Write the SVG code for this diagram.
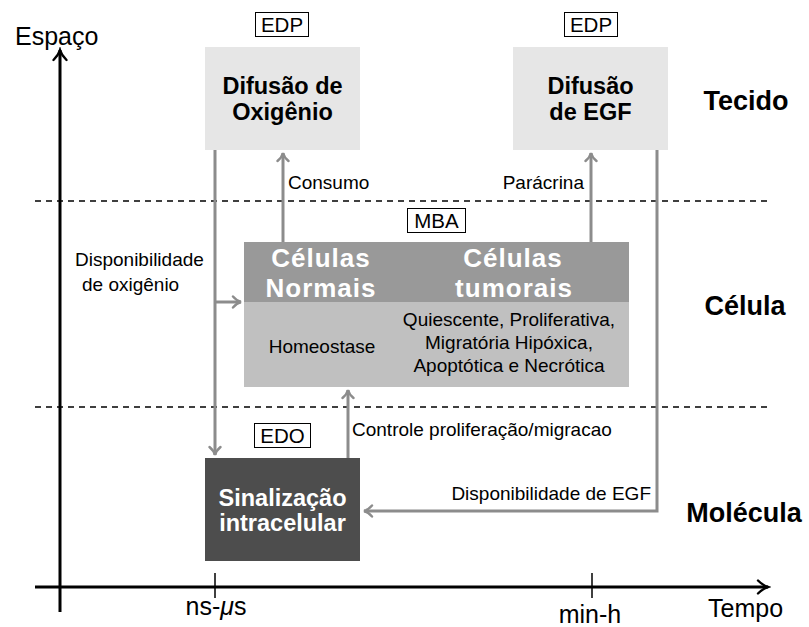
<svg xmlns="http://www.w3.org/2000/svg" width="809" height="627" viewBox="0 0 809 627">
<style>
text{font-family:"Liberation Sans",Arial,sans-serif;fill:#000}
.t{font-size:19px}
.tg{font-size:20.5px}
.b{font-weight:bold;font-size:23.5px}
.h{font-weight:bold;font-size:26px;letter-spacing:1px;fill:#fff}
.w{fill:#fff}
.lvl{font-weight:bold;font-size:27px}
.ax{font-size:25px}
.tag{fill:#fff;stroke:#000;stroke-width:1}
.con{stroke:#8c8c8c;stroke-width:3;fill:none}
.dash{stroke:#000;stroke-width:1.6;stroke-dasharray:6,5;fill:none}
.axis{stroke:#000;stroke-width:3;fill:none}
.tick{stroke:#000;stroke-width:1.5}
</style>
<defs>
<marker id="ag" markerUnits="userSpaceOnUse" markerWidth="14" markerHeight="14" viewBox="-10 -7 12 14" refX="0" refY="0" orient="auto">
<path d="M-8,-5.5 C-5,-2 -2,-0.5 0,0 C-2,0.5 -5,2 -8,5.5" stroke="#8c8c8c" stroke-width="2.4" fill="none" stroke-linecap="round"/>
</marker>
<marker id="ak" markerUnits="userSpaceOnUse" markerWidth="16" markerHeight="16" viewBox="-12 -8 14 16" refX="0" refY="0" orient="auto">
<path d="M-10,-6.5 C-6,-2.5 -2,-0.6 0,0 C-2,0.6 -6,2.5 -10,6.5" stroke="#000" stroke-width="2.4" fill="none" stroke-linecap="round"/>
</marker>
</defs>

<g id="levels">
<path class="dash" d="M35,201 H770"/>
<path class="dash" d="M35,407 H770"/>
</g>

<g id="axes">
<path class="axis" d="M60,612 V50" marker-end="url(#ak)"/>
<path class="axis" d="M35,587 H768" marker-end="url(#ak)"/>
<line class="tick" x1="215" y1="573" x2="215" y2="598"/>
<line class="tick" x1="592" y1="573" x2="592" y2="598"/>
<text class="ax" x="15" y="45">Espaço</text>
<text class="ax" x="708" y="617">Tempo</text>
<text class="ax" x="216" y="615" text-anchor="middle">ns-<tspan font-style="italic">μ</tspan>s</text>
<text class="ax" x="590" y="623" text-anchor="middle">min-h</text>
</g>

<g id="scale-labels">
<text class="lvl" x="746" y="110" text-anchor="middle">Tecido</text>
<text class="lvl" x="745" y="315" text-anchor="middle">Célula</text>
<text class="lvl" x="744" y="522" text-anchor="middle">Molécula</text>
</g>

<g id="difusao-oxigenio">
<rect x="205" y="47" width="155" height="103" fill="#e6e6e6"/>
<text class="b" x="282.5" y="94" text-anchor="middle">Difusão de</text>
<text class="b" x="282.5" y="120" text-anchor="middle">Oxigênio</text>
</g>
<g id="edp-1">
<rect class="tag" x="255.5" y="12.5" width="53" height="24"/>
<text class="tg" x="282" y="32" text-anchor="middle">EDP</text>
</g>

<g id="difusao-egf">
<rect x="513" y="47" width="155" height="103" fill="#e6e6e6"/>
<text class="b" x="590.5" y="94" text-anchor="middle">Difusão</text>
<text class="b" x="590.5" y="120" text-anchor="middle">de EGF</text>
</g>
<g id="edp-2">
<rect class="tag" x="564.5" y="12.5" width="53" height="24"/>
<text class="tg" x="591" y="32" text-anchor="middle">EDP</text>
</g>

<g id="mba">
<rect class="tag" x="407.5" y="208.5" width="58" height="24"/>
<text class="tg" x="436.5" y="228" text-anchor="middle">MBA</text>
</g>

<g id="celulas">
<rect x="244" y="242" width="385" height="60" fill="#999999"/>
<rect x="244" y="302" width="385" height="85" fill="#c0c0c0"/>
<text class="h" x="321" y="267" text-anchor="middle">Células</text>
<text class="h" x="321" y="296.5" text-anchor="middle">Normais</text>
<text class="h" x="513" y="267" text-anchor="middle">Células</text>
<text class="h" x="514" y="296.5" text-anchor="middle">tumorais</text>
<text class="t" x="322" y="353" text-anchor="middle">Homeostase</text>
<text class="t" x="509" y="326" text-anchor="middle">Quiescente, Proliferativa,</text>
<text class="t" x="509" y="349" text-anchor="middle">Migratória Hipóxica,</text>
<text class="t" x="509" y="372" text-anchor="middle">Apoptótica e Necrótica</text>
</g>

<g id="edo">
<rect class="tag" x="254.5" y="423.5" width="56" height="24"/>
<text class="tg" x="282.5" y="443" text-anchor="middle">EDO</text>
</g>

<g id="sinalizacao">
<rect x="205" y="458" width="155" height="103" fill="#4d4d4d"/>
<text class="b w" x="282.5" y="506" text-anchor="middle">Sinalização</text>
<text class="b w" x="282.5" y="531" text-anchor="middle">intracelular</text>
</g>

<g id="connectors">
<path class="con" d="M215,150 V455" marker-end="url(#ag)"/>
<path class="con" d="M215,302 H241" marker-end="url(#ag)"/>
<path class="con" d="M283,242 V153" marker-end="url(#ag)"/>
<path class="con" d="M591,242 V153" marker-end="url(#ag)"/>
<path class="con" d="M348,458 V390" marker-end="url(#ag)"/>
<path class="con" d="M657,150 V511 H364" marker-end="url(#ag)"/>
<text class="t" x="288" y="189">Consumo</text>
<text class="t" x="584" y="189" text-anchor="end">Parácrina</text>
<text class="t" x="75" y="266">Disponibilidade</text>
<text class="t" x="82" y="291">de oxigênio</text>
<text class="t" x="352" y="436">Controle proliferação/migracao</text>
<text class="t" x="651" y="500" text-anchor="end">Disponibilidade de EGF</text>
</g>
</svg>
